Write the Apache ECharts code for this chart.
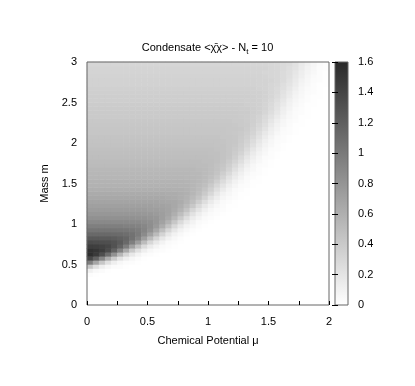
<!DOCTYPE html>
<html>
<head>
<meta charset="utf-8">
<script src="https://cdn.jsdelivr.net/npm/echarts@6/dist/echarts.min.js"></script>
<style>
  html, body { margin: 0; padding: 0; background: #fff; }
  #chart { width: 415px; height: 386px; }
</style>
</head>
<body>
<div id="chart"></div>
<script>
// cell centres of the map: mu across (40), m up (60)
var mu = [];
var mass = [];
for (var k = 0; k < 40; k++) mu.push((0.025 + 0.05 * k).toFixed(3));
for (var k = 0; k < 60; k++) mass.push((0.025 + 0.05 * k).toFixed(3));

// colour scale ends
var cbMin = 0, cbMax = 1.6;
var lowColor = '#ffffff', highColor = '#2a2a2a';

// condensate, one row per mass value (bottom row first)
var condensate = [
  [0,0,0,0,0,0,0,0,0,0, 0,0,0,0,0,0,0,0,0,0, 0,0,0,0,0,0,0,0,0,0, 0,0,0,0,0,0,0,0,0,0],
  [0,0,0,0,0,0,0,0,0,0, 0,0,0,0,0,0,0,0,0,0, 0,0,0,0,0,0,0,0,0,0, 0,0,0,0,0,0,0,0,0,0],
  [0,0,0,0,0,0,0,0,0,0, 0,0,0,0,0,0,0,0,0,0, 0,0,0,0,0,0,0,0,0,0, 0,0,0,0,0,0,0,0,0,0],
  [0,0,0,0,0,0,0,0,0,0, 0,0,0,0,0,0,0,0,0,0, 0,0,0,0,0,0,0,0,0,0, 0,0,0,0,0,0,0,0,0,0],
  [0,0,0,0,0,0,0,0,0,0, 0,0,0,0,0,0,0,0,0,0, 0,0,0,0,0,0,0,0,0,0, 0,0,0,0,0,0,0,0,0,0],
  [0,0,0,0,0,0,0,0,0,0, 0,0,0,0,0,0,0,0,0,0, 0,0,0,0,0,0,0,0,0,0, 0,0,0,0,0,0,0,0,0,0],
  [0,0,0,0,0,0,0,0,0,0, 0,0,0,0,0,0,0,0,0,0, 0,0,0,0,0,0,0,0,0,0, 0,0,0,0,0,0,0,0,0,0],
  [0.02,0.01,0,0,0,0,0,0,0,0, 0,0,0,0,0,0,0,0,0,0, 0,0,0,0,0,0,0,0,0,0, 0,0,0,0,0,0,0,0,0,0],
  [0.11,0.05,0.03,0.01,0,0,0,0,0,0, 0,0,0,0,0,0,0,0,0,0, 0,0,0,0,0,0,0,0,0,0, 0,0,0,0,0,0,0,0,0,0],
  [0.42,0.23,0.12,0.06,0.03,0.02,0.01,0,0,0, 0,0,0,0,0,0,0,0,0,0, 0,0,0,0,0,0,0,0,0,0, 0,0,0,0,0,0,0,0,0,0],
  [0.97,0.67,0.42,0.23,0.12,0.06,0.03,0.02,0.01,0, 0,0,0,0,0,0,0,0,0,0, 0,0,0,0,0,0,0,0,0,0, 0,0,0,0,0,0,0,0,0,0],
  [1.38,1.18,0.91,0.62,0.38,0.21,0.11,0.06,0.03,0.01, 0,0,0,0,0,0,0,0,0,0, 0,0,0,0,0,0,0,0,0,0, 0,0,0,0,0,0,0,0,0,0],
  [1.57,1.48,1.33,1.10,0.82,0.54,0.31,0.17,0.09,0.04, 0.02,0.01,0,0,0,0,0,0,0,0, 0,0,0,0,0,0,0,0,0,0, 0,0,0,0,0,0,0,0,0,0],
  [1.55,1.52,1.46,1.35,1.18,0.93,0.65,0.40,0.23,0.12, 0.06,0.03,0.02,0.01,0,0,0,0,0,0, 0,0,0,0,0,0,0,0,0,0, 0,0,0,0,0,0,0,0,0,0],
  [1.45,1.44,1.42,1.38,1.30,1.17,0.97,0.71,0.47,0.27, 0.15,0.08,0.04,0.02,0.01,0,0,0,0,0, 0,0,0,0,0,0,0,0,0,0, 0,0,0,0,0,0,0,0,0,0],
  [1.35,1.34,1.33,1.32,1.29,1.23,1.13,0.96,0.74,0.50, 0.30,0.17,0.09,0.04,0.02,0.01,0,0,0,0, 0,0,0,0,0,0,0,0,0,0, 0,0,0,0,0,0,0,0,0,0],
  [1.24,1.24,1.23,1.23,1.22,1.19,1.15,1.06,0.93,0.73, 0.51,0.32,0.18,0.10,0.05,0.02,0.01,0,0,0, 0,0,0,0,0,0,0,0,0,0, 0,0,0,0,0,0,0,0,0,0],
  [1.13,1.13,1.13,1.13,1.12,1.11,1.09,1.06,0.99,0.87, 0.70,0.51,0.32,0.18,0.10,0.05,0.02,0.01,0,0, 0,0,0,0,0,0,0,0,0,0, 0,0,0,0,0,0,0,0,0,0],
  [1.04,1.04,1.04,1.04,1.04,1.03,1.02,1.01,0.98,0.92, 0.82,0.66,0.48,0.31,0.18,0.10,0.05,0.02,0.01,0, 0,0,0,0,0,0,0,0,0,0, 0,0,0,0,0,0,0,0,0,0],
  [0.96,0.96,0.96,0.96,0.96,0.96,0.95,0.95,0.93,0.90, 0.85,0.76,0.62,0.46,0.29,0.17,0.09,0.05,0.02,0.01, 0,0,0,0,0,0,0,0,0,0, 0,0,0,0,0,0,0,0,0,0],
  [0.89,0.89,0.89,0.89,0.89,0.89,0.89,0.88,0.88,0.86, 0.84,0.79,0.70,0.58,0.42,0.27,0.16,0.09,0.04,0.02, 0.01,0,0,0,0,0,0,0,0,0, 0,0,0,0,0,0,0,0,0,0],
  [0.83,0.83,0.83,0.83,0.83,0.83,0.83,0.83,0.82,0.82, 0.80,0.78,0.73,0.65,0.53,0.39,0.25,0.14,0.08,0.04, 0.02,0.01,0,0,0,0,0,0,0,0, 0,0,0,0,0,0,0,0,0,0],
  [0.78,0.78,0.78,0.78,0.78,0.78,0.78,0.78,0.78,0.77, 0.77,0.75,0.73,0.68,0.60,0.49,0.35,0.22,0.13,0.07, 0.04,0.02,0.01,0,0,0,0,0,0,0, 0,0,0,0,0,0,0,0,0,0],
  [0.74,0.74,0.74,0.74,0.74,0.74,0.74,0.74,0.74,0.74, 0.73,0.73,0.71,0.69,0.64,0.56,0.45,0.31,0.20,0.11, 0.06,0.03,0.02,0.01,0,0,0,0,0,0, 0,0,0,0,0,0,0,0,0,0],
  [0.71,0.71,0.71,0.71,0.71,0.71,0.71,0.71,0.71,0.71, 0.71,0.70,0.70,0.68,0.65,0.60,0.52,0.41,0.28,0.17, 0.10,0.05,0.03,0.01,0.01,0,0,0,0,0, 0,0,0,0,0,0,0,0,0,0],
  [0.68,0.68,0.68,0.68,0.68,0.68,0.68,0.68,0.68,0.68, 0.68,0.68,0.67,0.66,0.65,0.62,0.56,0.48,0.37,0.25, 0.15,0.08,0.04,0.02,0.01,0,0,0,0,0, 0,0,0,0,0,0,0,0,0,0],
  [0.65,0.65,0.65,0.65,0.65,0.65,0.65,0.65,0.65,0.65, 0.65,0.65,0.65,0.64,0.63,0.61,0.58,0.52,0.44,0.33, 0.21,0.13,0.07,0.04,0.02,0.01,0,0,0,0, 0,0,0,0,0,0,0,0,0,0],
  [0.63,0.63,0.63,0.63,0.63,0.63,0.63,0.63,0.63,0.63, 0.63,0.63,0.63,0.62,0.62,0.61,0.59,0.55,0.49,0.40, 0.29,0.18,0.10,0.06,0.03,0.01,0.01,0,0,0, 0,0,0,0,0,0,0,0,0,0],
  [0.60,0.60,0.60,0.60,0.60,0.60,0.60,0.60,0.60,0.60, 0.60,0.60,0.60,0.60,0.59,0.59,0.58,0.55,0.51,0.44, 0.35,0.24,0.15,0.08,0.04,0.02,0.01,0,0,0, 0,0,0,0,0,0,0,0,0,0],
  [0.58,0.58,0.58,0.58,0.58,0.58,0.58,0.58,0.58,0.58, 0.58,0.58,0.58,0.58,0.58,0.57,0.57,0.55,0.52,0.48, 0.40,0.30,0.20,0.12,0.07,0.03,0.02,0.01,0,0, 0,0,0,0,0,0,0,0,0,0],
  [0.57,0.57,0.57,0.57,0.57,0.57,0.57,0.57,0.57,0.57, 0.57,0.57,0.57,0.57,0.57,0.57,0.56,0.55,0.53,0.50, 0.45,0.36,0.26,0.17,0.10,0.05,0.03,0.01,0.01,0, 0,0,0,0,0,0,0,0,0,0],
  [0.55,0.55,0.55,0.55,0.55,0.55,0.55,0.55,0.55,0.55, 0.55,0.55,0.55,0.55,0.55,0.55,0.54,0.54,0.53,0.51, 0.47,0.41,0.32,0.22,0.14,0.08,0.04,0.02,0.01,0, 0,0,0,0,0,0,0,0,0,0],
  [0.54,0.54,0.54,0.54,0.54,0.54,0.54,0.54,0.54,0.54, 0.54,0.54,0.54,0.54,0.54,0.54,0.54,0.53,0.53,0.51, 0.49,0.44,0.37,0.28,0.18,0.11,0.06,0.03,0.02,0.01, 0,0,0,0,0,0,0,0,0,0],
  [0.53,0.53,0.53,0.53,0.53,0.53,0.53,0.53,0.53,0.53, 0.53,0.53,0.53,0.53,0.53,0.53,0.53,0.53,0.52,0.51, 0.49,0.46,0.41,0.33,0.23,0.15,0.08,0.05,0.02,0.01, 0,0,0,0,0,0,0,0,0,0],
  [0.51,0.51,0.51,0.51,0.51,0.51,0.51,0.51,0.51,0.51, 0.51,0.51,0.51,0.51,0.51,0.51,0.51,0.51,0.50,0.50, 0.49,0.46,0.43,0.36,0.28,0.19,0.11,0.06,0.03,0.02, 0.01,0,0,0,0,0,0,0,0,0],
  [0.50,0.50,0.50,0.50,0.50,0.50,0.50,0.50,0.50,0.50, 0.50,0.50,0.50,0.50,0.50,0.50,0.50,0.50,0.50,0.49, 0.49,0.47,0.44,0.39,0.32,0.24,0.15,0.09,0.05,0.02, 0.01,0,0,0,0,0,0,0,0,0],
  [0.49,0.49,0.49,0.49,0.49,0.49,0.49,0.49,0.49,0.49, 0.49,0.49,0.49,0.49,0.49,0.49,0.49,0.49,0.49,0.49, 0.48,0.47,0.45,0.42,0.36,0.28,0.19,0.12,0.07,0.03, 0.02,0.01,0,0,0,0,0,0,0,0],
  [0.48,0.48,0.48,0.48,0.48,0.48,0.48,0.48,0.48,0.48, 0.48,0.48,0.48,0.48,0.48,0.48,0.48,0.48,0.48,0.48, 0.47,0.47,0.45,0.43,0.38,0.32,0.23,0.15,0.09,0.05, 0.02,0.01,0,0,0,0,0,0,0,0],
  [0.47,0.47,0.47,0.47,0.47,0.47,0.47,0.47,0.47,0.47, 0.47,0.47,0.47,0.47,0.47,0.47,0.47,0.47,0.47,0.47, 0.47,0.46,0.45,0.43,0.40,0.35,0.27,0.19,0.12,0.07, 0.03,0.02,0.01,0,0,0,0,0,0,0],
  [0.46,0.46,0.46,0.46,0.46,0.46,0.46,0.46,0.46,0.46, 0.46,0.46,0.46,0.46,0.46,0.46,0.46,0.46,0.46,0.46, 0.46,0.45,0.45,0.43,0.41,0.37,0.31,0.23,0.15,0.09, 0.05,0.02,0.01,0,0,0,0,0,0,0],
  [0.45,0.45,0.45,0.45,0.45,0.45,0.45,0.45,0.45,0.45, 0.45,0.45,0.45,0.45,0.45,0.45,0.45,0.45,0.45,0.45, 0.45,0.45,0.44,0.43,0.42,0.38,0.33,0.26,0.18,0.11, 0.06,0.03,0.02,0.01,0,0,0,0,0,0],
  [0.44,0.44,0.44,0.44,0.44,0.44,0.44,0.44,0.44,0.44, 0.44,0.44,0.44,0.44,0.44,0.44,0.44,0.44,0.44,0.44, 0.44,0.44,0.43,0.43,0.42,0.39,0.35,0.29,0.22,0.14, 0.08,0.04,0.02,0.01,0,0,0,0,0,0],
  [0.43,0.43,0.43,0.43,0.43,0.43,0.43,0.43,0.43,0.43, 0.43,0.43,0.43,0.43,0.43,0.43,0.43,0.43,0.43,0.43, 0.43,0.43,0.43,0.42,0.41,0.40,0.37,0.32,0.25,0.17, 0.11,0.06,0.03,0.02,0.01,0,0,0,0,0],
  [0.43,0.43,0.43,0.43,0.43,0.43,0.43,0.43,0.43,0.43, 0.43,0.43,0.43,0.43,0.43,0.43,0.43,0.43,0.43,0.43, 0.43,0.43,0.43,0.42,0.42,0.41,0.38,0.34,0.28,0.21, 0.13,0.08,0.04,0.02,0.01,0,0,0,0,0],
  [0.42,0.42,0.42,0.42,0.42,0.42,0.42,0.42,0.42,0.42, 0.42,0.42,0.42,0.42,0.42,0.42,0.42,0.42,0.42,0.42, 0.42,0.42,0.42,0.42,0.41,0.40,0.39,0.35,0.30,0.24, 0.16,0.10,0.06,0.03,0.01,0.01,0,0,0,0],
  [0.41,0.41,0.41,0.41,0.41,0.41,0.41,0.41,0.41,0.41, 0.41,0.41,0.41,0.41,0.41,0.41,0.41,0.41,0.41,0.41, 0.41,0.41,0.41,0.41,0.40,0.40,0.38,0.36,0.32,0.26, 0.19,0.12,0.07,0.04,0.02,0.01,0,0,0,0],
  [0.40,0.40,0.40,0.40,0.40,0.40,0.40,0.40,0.40,0.40, 0.40,0.40,0.40,0.40,0.40,0.40,0.40,0.40,0.40,0.40, 0.40,0.40,0.40,0.40,0.40,0.39,0.38,0.36,0.33,0.28, 0.22,0.15,0.09,0.05,0.03,0.01,0.01,0,0,0],
  [0.40,0.40,0.40,0.40,0.40,0.40,0.40,0.40,0.40,0.40, 0.40,0.40,0.40,0.40,0.40,0.40,0.40,0.40,0.40,0.40, 0.40,0.40,0.40,0.40,0.40,0.39,0.39,0.37,0.35,0.31, 0.25,0.18,0.11,0.06,0.03,0.02,0.01,0,0,0],
  [0.39,0.39,0.39,0.39,0.39,0.39,0.39,0.39,0.39,0.39, 0.39,0.39,0.39,0.39,0.39,0.39,0.39,0.39,0.39,0.39, 0.39,0.39,0.39,0.39,0.39,0.38,0.38,0.37,0.35,0.32, 0.27,0.20,0.13,0.08,0.04,0.02,0.01,0,0,0],
  [0.38,0.38,0.38,0.38,0.38,0.38,0.38,0.38,0.38,0.38, 0.38,0.38,0.38,0.38,0.38,0.38,0.38,0.38,0.38,0.38, 0.38,0.38,0.38,0.38,0.38,0.38,0.37,0.36,0.35,0.32, 0.28,0.22,0.16,0.10,0.05,0.03,0.01,0.01,0,0],
  [0.37,0.37,0.37,0.37,0.37,0.37,0.37,0.37,0.37,0.37, 0.37,0.37,0.37,0.37,0.37,0.37,0.37,0.37,0.37,0.37, 0.37,0.37,0.37,0.37,0.37,0.37,0.36,0.36,0.35,0.33, 0.29,0.24,0.18,0.11,0.07,0.04,0.02,0.01,0,0],
  [0.37,0.37,0.37,0.37,0.37,0.37,0.37,0.37,0.37,0.37, 0.37,0.37,0.37,0.37,0.37,0.37,0.37,0.37,0.37,0.37, 0.37,0.37,0.37,0.37,0.37,0.37,0.37,0.36,0.35,0.34, 0.31,0.26,0.20,0.14,0.08,0.05,0.02,0.01,0.01,0],
  [0.36,0.36,0.36,0.36,0.36,0.36,0.36,0.36,0.36,0.36, 0.36,0.36,0.36,0.36,0.36,0.36,0.36,0.36,0.36,0.36, 0.36,0.36,0.36,0.36,0.36,0.36,0.36,0.35,0.35,0.34, 0.31,0.28,0.22,0.16,0.10,0.06,0.03,0.02,0.01,0],
  [0.35,0.35,0.35,0.35,0.35,0.35,0.35,0.35,0.35,0.35, 0.35,0.35,0.35,0.35,0.35,0.35,0.35,0.35,0.35,0.35, 0.35,0.35,0.35,0.35,0.35,0.35,0.35,0.35,0.34,0.33, 0.31,0.28,0.24,0.18,0.12,0.07,0.04,0.02,0.01,0],
  [0.34,0.34,0.34,0.34,0.34,0.34,0.34,0.34,0.34,0.34, 0.34,0.34,0.34,0.34,0.34,0.34,0.34,0.34,0.34,0.34, 0.34,0.34,0.34,0.34,0.34,0.34,0.34,0.34,0.33,0.33, 0.31,0.29,0.25,0.20,0.14,0.08,0.05,0.02,0.01,0.01],
  [0.34,0.34,0.34,0.34,0.34,0.34,0.34,0.34,0.34,0.34, 0.34,0.34,0.34,0.34,0.34,0.34,0.34,0.34,0.34,0.34, 0.34,0.34,0.34,0.34,0.34,0.34,0.34,0.34,0.33,0.33, 0.32,0.30,0.27,0.22,0.16,0.10,0.06,0.03,0.02,0.01],
  [0.33,0.33,0.33,0.33,0.33,0.33,0.33,0.33,0.33,0.33, 0.33,0.33,0.33,0.33,0.33,0.33,0.33,0.33,0.33,0.33, 0.33,0.33,0.33,0.33,0.33,0.33,0.33,0.33,0.33,0.32, 0.31,0.30,0.27,0.23,0.17,0.12,0.07,0.04,0.02,0.01],
  [0.32,0.32,0.32,0.32,0.32,0.32,0.32,0.32,0.32,0.32, 0.32,0.32,0.32,0.32,0.32,0.32,0.32,0.32,0.32,0.32, 0.32,0.32,0.32,0.32,0.32,0.32,0.32,0.32,0.32,0.31, 0.31,0.30,0.27,0.24,0.19,0.13,0.08,0.05,0.02,0.01],
  [0.32,0.32,0.32,0.32,0.32,0.32,0.32,0.32,0.32,0.32, 0.32,0.32,0.32,0.32,0.32,0.32,0.32,0.32,0.32,0.32, 0.32,0.32,0.32,0.32,0.32,0.32,0.32,0.32,0.32,0.32, 0.31,0.30,0.28,0.25,0.21,0.15,0.10,0.06,0.03,0.02],
  [0.31,0.31,0.31,0.31,0.31,0.31,0.31,0.31,0.31,0.31, 0.31,0.31,0.31,0.31,0.31,0.31,0.31,0.31,0.31,0.31, 0.31,0.31,0.31,0.31,0.31,0.31,0.31,0.31,0.31,0.31, 0.30,0.29,0.28,0.26,0.22,0.16,0.11,0.07,0.04,0.02]
];

var font = 'Liberation Sans, Arial, Helvetica, sans-serif';

var cells = [];
for (var j = 0; j < mass.length; j++) {
  for (var i = 0; i < mu.length; i++) {
    cells.push([i, j, condensate[j][i]]);
  }
}

var chart = echarts.init(document.getElementById('chart'));
chart.setOption({
  animation: false,
  backgroundColor: '#fff',
  title: {
    text: '{t|Condensate <\u03c7\u0304\u03c7> - N}{s|t}{t| = 10}',
    left: 'center',
    top: 36,
    textStyle: {
      fontWeight: 'normal',
      rich: {
        t: { fontSize: 11, fontWeight: 'normal', color: '#000', fontFamily: font, lineHeight: 14 },
        s: { fontSize: 8, fontWeight: 'normal', color: '#000', fontFamily: font, lineHeight: 14, padding: [7, 0, 0, 0] }
      }
    }
  },
  grid: [
    { left: 87, top: 62, width: 242, height: 243, show: true, z: 5,
      backgroundColor: 'transparent', borderColor: '#666', borderWidth: 1 },
    // colour box
    { left: 335, top: 62, width: 13, height: 243, show: true, z: 5,
      backgroundColor: 'transparent', borderColor: '#666', borderWidth: 1 }
  ],
  // gradient of the colour box, same ends as the visual map
  graphic: [{
    type: 'rect',
    z: 1,
    shape: { x: 335, y: 62, width: 13, height: 243 },
    style: {
      fill: new echarts.graphic.LinearGradient(0, 1, 0, 0, [
        { offset: 0, color: lowColor },
        { offset: 1, color: highColor }
      ])
    },
    silent: true
  }],
  xAxis: [
    { type: 'category', gridIndex: 0, data: mu, show: false, position: 'top' },
    {
      type: 'value', gridIndex: 0, position: 'bottom', min: 0, max: 2, interval: 0.5, z: 6,
      name: 'Chemical Potential \u03bc', nameLocation: 'middle', nameGap: 30,
      nameTextStyle: { fontSize: 11, color: '#000', fontFamily: font },
      axisLine: { show: false },
      axisTick: { inside: true, length: 4, lineStyle: { color: '#000' } },
      minorTick: { show: true, splitNumber: 2, length: 4, lineStyle: { color: '#000' } },
      splitLine: { show: false },
      axisLabel: { margin: 11, fontSize: 11, color: '#000', fontFamily: font }
    },
    { type: 'value', gridIndex: 1, show: false, min: 0, max: 1 }
  ],
  yAxis: [
    { type: 'category', gridIndex: 0, data: mass, show: false, position: 'right' },
    {
      type: 'value', gridIndex: 0, position: 'left', min: 0, max: 3, interval: 0.5,
      name: 'Mass m', nameLocation: 'middle', nameGap: 33,
      nameTextStyle: { fontSize: 11, color: '#000', fontFamily: font },
      axisLine: { show: false },
      axisTick: { show: false },
      splitLine: { show: false },
      axisLabel: { margin: 10, fontSize: 11, color: '#000', fontFamily: font }
    },
    {
      type: 'value', gridIndex: 1, position: 'right', min: cbMin, max: cbMax, interval: 0.2, z: 6,
      axisLine: { show: false },
      axisTick: { inside: true, length: 3, lineStyle: { color: '#000' } },
      splitLine: { show: false },
      axisLabel: { margin: 10, fontSize: 11, color: '#000', fontFamily: font }
    },
    {
      type: 'value', gridIndex: 1, position: 'left', min: cbMin, max: cbMax, interval: 0.2, z: 6,
      axisLine: { show: false },
      axisTick: { inside: true, length: 3, lineStyle: { color: '#000' } },
      axisLabel: { show: false },
      splitLine: { show: false }
    }
  ],
  visualMap: {
    type: 'continuous',
    show: false,
    min: cbMin,
    max: cbMax,
    seriesIndex: 0,
    inRange: { color: [lowColor, highColor] }
  },
  series: [{
    type: 'heatmap',
    xAxisIndex: 0,
    yAxisIndex: 0,
    data: cells,
    progressive: 0,
    emphasis: { disabled: true },
    itemStyle: { borderWidth: 0 }
  }]
});
</script>
</body>
</html>
